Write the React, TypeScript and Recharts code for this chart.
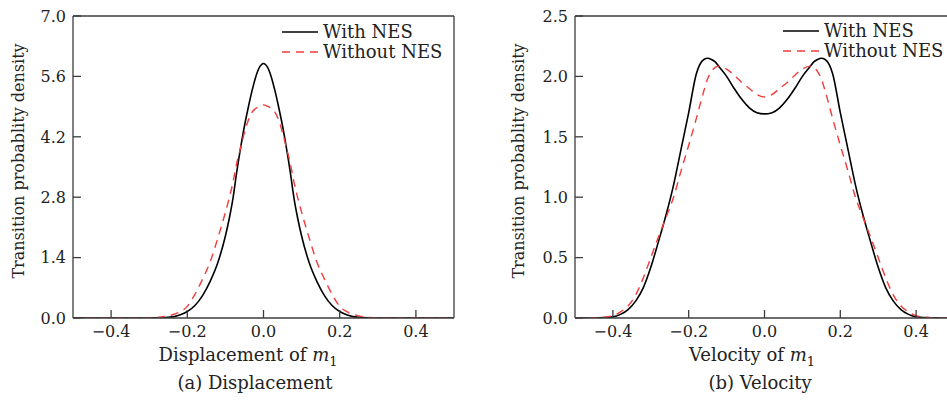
import React from 'react';
import { LineChart, Line, XAxis, YAxis, ReferenceLine } from 'recharts';

// displacement panel (a)
const dispX = [
  -0.5, -0.4, -0.3, -0.28, -0.25, -0.22, -0.2, -0.18, -0.16, -0.14, -0.12, -0.1, -0.09, -0.08, -0.07, -0.06, -0.05,
  -0.04, -0.03, -0.02, -0.01, 0, 0.01, 0.02, 0.03, 0.04, 0.05, 0.06, 0.07, 0.08, 0.09, 0.1, 0.12, 0.14, 0.16, 0.18,
  0.2, 0.22, 0.25, 0.28, 0.3, 0.4, 0.5,
];
const dispWithNes = [
  0, 0, 0, 0.003, 0.015, 0.07, 0.15, 0.29, 0.52, 0.85, 1.28, 1.9, 2.3, 2.78, 3.4, 3.95, 4.45, 4.88, 5.27, 5.6, 5.82,
  5.9, 5.82, 5.6, 5.27, 4.88, 4.45, 3.95, 3.4, 2.78, 2.3, 1.9, 1.28, 0.85, 0.52, 0.29, 0.15, 0.07, 0.015, 0.003, 0, 0, 0,
];
const dispWithoutNes = [
  0, 0, 0.005, 0.012, 0.05, 0.14, 0.27, 0.55, 0.9, 1.3, 1.85, 2.45, 2.78, 3.15, 3.6, 3.95, 4.3, 4.58, 4.77, 4.86, 4.91,
  4.94, 4.91, 4.86, 4.77, 4.58, 4.3, 3.95, 3.6, 3.15, 2.78, 2.45, 1.85, 1.3, 0.9, 0.55, 0.27, 0.14, 0.05, 0.012, 0.005,
  0, 0,
];

// velocity panel (b)
const velX = [
  -0.5, -0.44, -0.4, -0.38, -0.36, -0.34, -0.32, -0.3, -0.28, -0.26, -0.24, -0.22, -0.2, -0.18, -0.16, -0.15, -0.14,
  -0.13, -0.12, -0.1, -0.08, -0.06, -0.04, -0.02, 0, 0.02, 0.04, 0.06, 0.08, 0.1, 0.12, 0.13, 0.14, 0.15, 0.16, 0.18,
  0.2, 0.22, 0.24, 0.26, 0.28, 0.3, 0.32, 0.34, 0.36, 0.38, 0.4, 0.44, 0.5,
];
const velWithNes = [
  0, 0.002, 0.01, 0.03, 0.07, 0.14, 0.25, 0.42, 0.63, 0.85, 1.1, 1.4, 1.7, 2.02, 2.14, 2.15, 2.14, 2.12, 2.08, 2.0,
  1.9, 1.81, 1.74, 1.7, 1.69, 1.7, 1.74, 1.81, 1.9, 2.0, 2.08, 2.12, 2.14, 2.15, 2.14, 2.02, 1.7, 1.4, 1.1, 0.85, 0.63,
  0.42, 0.25, 0.14, 0.07, 0.03, 0.01, 0.002, 0,
];
const velWithoutNes = [
  0, 0.003, 0.02, 0.05, 0.1, 0.19, 0.33, 0.5, 0.67, 0.83, 1.0, 1.22, 1.43, 1.65, 1.88, 1.98, 2.04, 2.075, 2.085, 2.06,
  2.01, 1.95, 1.9, 1.85, 1.83, 1.85, 1.9, 1.95, 2.01, 2.06, 2.085, 2.075, 2.04, 1.98, 1.88, 1.65, 1.43, 1.22, 1.0, 0.83,
  0.67, 0.5, 0.33, 0.19, 0.1, 0.05, 0.02, 0.003, 0,
];

const xTicks = [-0.4, -0.2, 0, 0.2, 0.4];
const dispYTicks = [0, 1.4, 2.8, 4.2, 5.6, 7.0];
const velYTicks = [0, 0.5, 1.0, 1.5, 2.0, 2.5];

const FONT = '"DejaVu Serif", serif';
const AXIS = '#3c3c3c';
const RED = '#f23c3c';
const TICK = 8;

const fmt = (v: number) => v.toFixed(1).replace('-', '\u2212');

const dispRows = dispX.map((x, i) => ({ x, withNes: dispWithNes[i], withoutNes: dispWithoutNes[i] }));
const velRows = velX.map((x, i) => ({ x, withNes: velWithNes[i], withoutNes: velWithoutNes[i] }));

function YTick(props: any) {
  const { x, y, payload } = props;
  const ax = x + 7;
  return (
    <g>
      <line x1={ax} x2={ax + TICK} y1={y} y2={y} stroke={AXIS} strokeWidth={1.3} />
      <text x={x} y={y} dy="0.36em" textAnchor="end" fontFamily={FONT} fontSize={16} fill="#222">
        {fmt(payload.value)}
      </text>
    </g>
  );
}

function XTick(props: any) {
  const { x, y, payload } = props;
  return (
    <g>
      <line x1={x} x2={x} y1={y} y2={y - TICK} stroke={AXIS} strokeWidth={1.3} />
      <text x={x} y={y + 19} textAnchor="middle" fontFamily={FONT} fontSize={16} fill="#222">
        {fmt(payload.value)}
      </text>
    </g>
  );
}

function LegendBox({ left, top }: { left: number; top: number }) {
  return (
    <svg style={{ position: 'absolute', left, top, overflow: 'visible' }} width={170} height={44}>
      <line x1={0} x2={36} y1={9} y2={9} stroke="#000" strokeWidth={1.6} />
      <text x={41} y={15} fontFamily={FONT} fontSize={18} fill="#222">
        With NES
      </text>
      <line x1={0} x2={36} y1={29} y2={29} stroke={RED} strokeWidth={1.4} strokeDasharray="8 6" />
      <text x={41} y={35} fontFamily={FONT} fontSize={18} fill="#222">
        Without NES
      </text>
    </svg>
  );
}

const textStyle: React.CSSProperties = {
  position: 'absolute',
  fontFamily: FONT,
  fontSize: 18,
  color: '#222',
  whiteSpace: 'nowrap',
  transform: 'translateX(-50%)',
};

function Panel({
  left,
  width,
  yAxisWidth,
  rows,
  yMax,
  yTicks,
  xLabel,
  caption,
  yLabelX,
  xLabelX,
  captionX,
}: {
  left: number;
  width: number;
  yAxisWidth: number;
  rows: { x: number; withNes: number; withoutNes: number }[];
  yMax: number;
  yTicks: number[];
  xLabel: string;
  caption: string;
  yLabelX: number;
  xLabelX: number;
  captionX: number;
}) {
  return (
    <div style={{ position: 'absolute', left, top: 0, width, height: 401 }}>
      <LineChart width={width} height={401} data={rows} margin={{ top: 16, right: 16, left: 0, bottom: 0 }}>
        <XAxis
          dataKey="x"
          type="number"
          domain={[-0.5, 0.5]}
          ticks={xTicks}
          allowDataOverflow
          height={83}
          tickSize={0}
          tickMargin={0}
          tickLine={false}
          interval={0}
          stroke={AXIS}
          strokeWidth={1.3}
          tick={<XTick />}
        />
        <YAxis
          type="number"
          domain={[0, yMax]}
          ticks={yTicks}
          allowDataOverflow
          width={yAxisWidth}
          tickSize={0}
          tickMargin={7}
          tickLine={false}
          interval={0}
          stroke={AXIS}
          strokeWidth={1.3}
          tick={<YTick />}
        />
        <ReferenceLine y={yMax} stroke={AXIS} strokeWidth={1.3} />
        <ReferenceLine x={0.5} stroke={AXIS} strokeWidth={1.3} />
        <Line
          type="monotone"
          dataKey="withNes"
          stroke="#000"
          strokeWidth={1.6}
          dot={false}
          isAnimationActive={false}
        />
        <Line
          type="monotone"
          dataKey="withoutNes"
          stroke={RED}
          strokeWidth={1.4}
          strokeDasharray="8 6"
          dot={false}
          isAnimationActive={false}
        />
      </LineChart>
      <div
        style={{
          ...textStyle,
          fontSize: 16,
          left: yLabelX,
          top: 161,
          transform: 'translate(-50%, -50%) rotate(-90deg)',
        }}
      >
        Transition probablity density
      </div>
      <div style={{ ...textStyle, left: xLabelX, top: 344 }}>
        {xLabel} <i>m</i>
        <sub style={{ fontSize: 13 }}>1</sub>
      </div>
      <div style={{ ...textStyle, left: captionX, top: 372 }}>{caption}</div>
    </div>
  );
}

export default function App() {
  return (
    <div
      style={{
        position: 'fixed',
        left: 0,
        top: 0,
        width: 947,
        height: 401,
        overflow: 'hidden',
        background: '#fff',
      }}
    >
      <Panel
        left={0}
        width={470}
        yAxisWidth={73}
        rows={dispRows}
        yMax={7}
        yTicks={dispYTicks}
        xLabel="Displacement of"
        caption="(a) Displacement"
        yLabelX={18}
        xLabelX={248}
        captionX={255}
      />
      <Panel
        left={470}
        width={500}
        yAxisWidth={105}
        rows={velRows}
        yMax={2.5}
        yTicks={velYTicks}
        xLabel="Velocity of"
        caption="(b) Velocity"
        yLabelX={48}
        xLabelX={282}
        captionX={290}
      />
      <LegendBox left={282} top={23} />
      <LegendBox left={783} top={22} />
    </div>
  );
}
